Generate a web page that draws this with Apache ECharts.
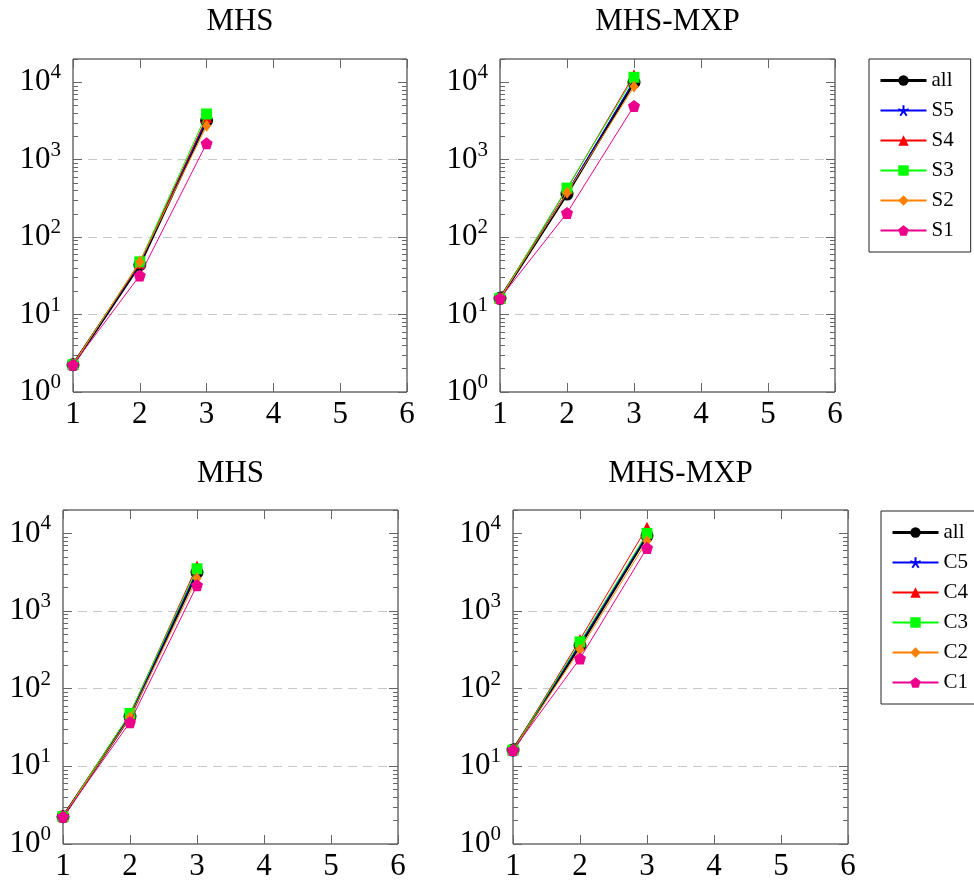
<!DOCTYPE html>
<html>
<head>
<meta charset="utf-8">
<script src="https://cdn.jsdelivr.net/npm/echarts@6/dist/echarts.min.js"></script>
<style>
  html, body { margin: 0; padding: 0; background: #fff; }
  #chart { width: 974px; height: 882px; }
</style>
</head>
<body>
<div id="chart"></div>
<script>
// x positions and tick values
const xValues = [1, 2, 3];
const xTicks = [1, 2, 3, 4, 5, 6];
const yMajor = [1, 10, 100, 1000, 10000];
const yMinorSteps = [2, 3, 4, 5, 6, 7, 8, 9];

// top row, S groups
const sNames = ['all', 'S5', 'S4', 'S3', 'S2', 'S1'];
const mhsAllS = [2.25, 44, 3200];
const mhsS5 = [2.25, 45, 3300];
const mhsS4 = [2.3, 46, 3500];
const mhsS3 = [2.25, 48, 3900];
const mhsS2 = [2.25, 48, 2750];
const mhsS1 = [2.25, 32, 1630];

const mxpAllS = [16.2, 360, 10000];
const mxpS5 = [16.2, 380, 10500];
const mxpS4 = [16.3, 420, 12500];
const mxpS3 = [16.2, 430, 11600];
const mxpS2 = [16.2, 375, 8800];
const mxpS1 = [16.2, 205, 4950];

// bottom row, C groups
const cNames = ['all', 'C5', 'C4', 'C3', 'C2', 'C1'];
const mhsAllC = [2.25, 44, 3150];
const mhsC5 = [2.25, 45, 3300];
const mhsC4 = [2.3, 47, 3800];
const mhsC3 = [2.25, 48, 3500];
const mhsC2 = [2.25, 43, 2650];
const mhsC1 = [2.25, 37, 2150];

const mxpAllC = [16.2, 360, 9300];
const mxpC5 = [16.2, 380, 9600];
const mxpC4 = [16.3, 430, 12000];
const mxpC3 = [16.2, 400, 10000];
const mxpC2 = [16.2, 320, 8000];
const mxpC1 = [16.2, 245, 6500];

const yMinor = [];
yMajor.forEach(d => yMinorSteps.forEach(s => yMinor.push(d * s)));

const FONT = '"Liberation Serif", "Times New Roman", serif';
const STAR = 'path://M0,0L0,-10M0,0L9.51,-3.09M0,0L5.88,8.09M0,0L-5.88,8.09M0,0L-9.51,-3.09';
const PENTAGON = 'path://M0,-10L9.51,-3.09L5.88,8.09L-5.88,8.09L-9.51,-3.09Z';

// marker / line style per series slot
const styles = [
  { color: '#000000', symbol: 'circle', size: 13, width: 2.6 },
  { color: '#0000ff', symbol: STAR, size: 9, width: 1, stroke: 1.2 },
  { color: '#ff0000', symbol: 'triangle', size: 11, width: 1 },
  { color: '#00ff00', symbol: 'rect', size: 11, width: 1 },
  { color: '#ff8000', symbol: 'diamond', size: [9, 12], width: 1 },
  { color: '#ec008c', symbol: PENTAGON, size: 12, width: 1 }
];

const panels = [
  { title: 'MHS', names: sNames, values: [mhsAllS, mhsS5, mhsS4, mhsS3, mhsS2, mhsS1],
    box: { left: 73, top: 59, width: 334, height: 333 }, titleTop: 6 },
  { title: 'MHS-MXP', names: sNames, values: [mxpAllS, mxpS5, mxpS4, mxpS3, mxpS2, mxpS1],
    box: { left: 500, top: 59, width: 335, height: 333 }, titleTop: 6 },
  { title: 'MHS', names: cNames, values: [mhsAllC, mhsC5, mhsC4, mhsC3, mhsC2, mhsC1],
    box: { left: 63, top: 510, width: 335, height: 334 }, titleTop: 458 },
  { title: 'MHS-MXP', names: cNames, values: [mxpAllC, mxpC5, mxpC4, mxpC3, mxpC2, mxpC1],
    box: { left: 513, top: 510, width: 335, height: 334 }, titleTop: 458 }
];

const tickLine = { color: '#666', width: 1 };

const grid = [];
const title = [];
const xAxis = [];
const yAxis = [];
const series = [];

panels.forEach((p, g) => {
  grid.push({
    ...p.box,
    show: true,
    borderColor: '#222',
    borderWidth: 1,
    backgroundColor: 'transparent',
    containLabel: false,
    outerBoundsMode: 'none'
  });

  title.push({
    text: p.title,
    left: p.box.left + p.box.width / 2,
    top: p.titleTop,
    textAlign: 'center',
    padding: 0,
    textStyle: { fontFamily: FONT, fontSize: 31, fontWeight: 'normal', color: '#000' }
  });

  const xBase = {
    type: 'value', gridIndex: g, min: 1, max: 6, interval: 1,
    axisLine: { show: false },
    splitLine: { show: false },
    axisTick: { show: true, inside: true, length: 9, customValues: xTicks, lineStyle: tickLine }
  };
  xAxis.push({
    ...xBase, position: 'bottom',
    axisLabel: { margin: 7, fontFamily: FONT, fontSize: 31, color: '#000', customValues: xTicks }
  });
  xAxis.push({ ...xBase, position: 'top', axisLabel: { show: false } });

  const yBase = {
    type: 'log', logBase: 10, gridIndex: g, min: 1, max: 20000,
    axisLine: { show: false },
    splitLine: { show: false },
    axisLabel: { show: false }
  };
  yAxis.push({
    ...yBase, position: 'left',
    axisTick: { show: true, inside: true, length: 9, customValues: yMajor, lineStyle: tickLine },
    axisLabel: {
      show: true,
      margin: 12,
      customValues: yMajor,
      formatter: v => '{b|10}{s|' + Math.round(Math.log10(v)) + '}',
      rich: {
        b: { fontFamily: FONT, fontSize: 31, color: '#000', lineHeight: 40 },
        s: { fontFamily: FONT, fontSize: 21, color: '#000', lineHeight: 21, verticalAlign: 'top' }
      }
    },
    splitLine: {
      show: true, showMinLine: false, showMaxLine: false,
      lineStyle: { color: '#c8c8c8', type: [9, 6], width: 1 }
    }
  });
  yAxis.push({ ...yBase, position: 'left',
    axisTick: { show: true, inside: true, length: 5, customValues: yMinor, lineStyle: tickLine } });
  yAxis.push({ ...yBase, position: 'right',
    axisTick: { show: true, inside: true, length: 9, customValues: yMajor, lineStyle: tickLine } });
  yAxis.push({ ...yBase, position: 'right',
    axisTick: { show: true, inside: true, length: 5, customValues: yMinor, lineStyle: tickLine } });

  p.values.forEach((vals, i) => {
    const st = styles[i];
    series.push({
      name: p.names[i],
      type: 'line',
      xAxisIndex: 2 * g,
      yAxisIndex: 4 * g,
      data: vals.map((v, k) => [xValues[k], v]),
      symbol: st.symbol,
      symbolSize: st.size,
      showSymbol: true,
      lineStyle: { color: st.color, width: st.width },
      itemStyle: {
        color: st.color,
        borderColor: st.color,
        borderWidth: st.stroke || 0
      },
      emphasis: { disabled: true },
      z: 2 + i
    });
  });
});

const legendBase = {
  orient: 'vertical',
  backgroundColor: '#fff',
  borderColor: '#222',
  borderWidth: 1,
  padding: [11, 17, 11, 10],
  itemWidth: 46,
  itemHeight: 13,
  itemGap: 9,
  selectedMode: false,
  textStyle: { fontFamily: FONT, fontSize: 21, color: '#000' }
};

// first entry ("all") gets the thick line like in the plot
const legendData = names => names.map((n, i) =>
  i === 0 ? { name: n, lineStyle: { width: 3, color: '#000' } } : { name: n });

const option = {
  animation: false,
  backgroundColor: '#fff',
  title,
  grid,
  xAxis,
  yAxis,
  series,
  legend: [
    { ...legendBase, data: legendData(sNames), left: 869, top: 59 },
    { ...legendBase, data: legendData(cNames), left: 881, top: 511 }
  ]
};

const chart = echarts.init(document.getElementById('chart'));
chart.setOption(option);
window.addEventListener('resize', () => chart.resize());
</script>
</body>
</html>
